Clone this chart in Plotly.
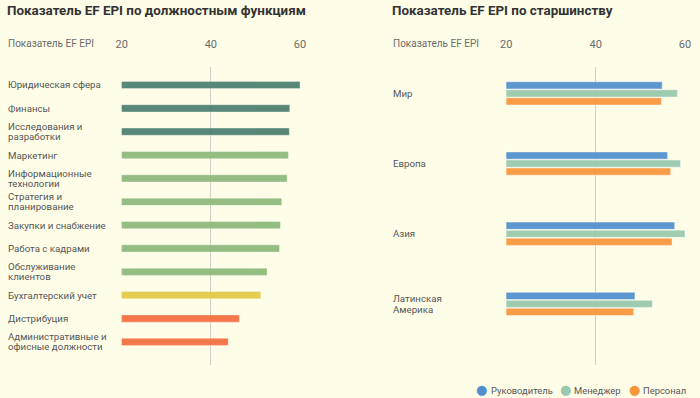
import plotly.graph_objects as go

# ---- data ----
functions = ["Юридическая сфера", "Финансы", "Исследования и<br>разработки", "Маркетинг",
             "Информационные<br>технологии", "Стратегия и<br>планирование", "Закупки и снабжение",
             "Работа с кадрами", "Обслуживание<br>клиентов", "Бухгалтерский учет", "Дистрибуция",
             "Административные и<br>офисные должности"]
function_scores = [60.0, 57.7, 57.6, 57.4, 57.1, 55.9, 55.6, 55.4, 52.6, 51.2, 46.4, 43.9]
function_colors = ["#4b7d6f", "#4b7d6f", "#4b7d6f", "#8cb87a", "#8cb87a", "#8cb87a", "#8cb87a",
                   "#8cb87a", "#8cb87a", "#e2c843", "#f36d3b", "#f36d3b"]

regions = ["Мир", "Европа", "Азия", "Латинская<br>Америка"]
series_names = ["Руководитель", "Менеджер", "Персонал"]
executive = [54.9, 56.1, 57.7, 48.8]
manager = [58.3, 59.0, 60.0, 52.7]
staff = [54.7, 56.8, 57.1, 48.5]
series_colors = ["#4f8fcd", "#98c8ad", "#f8943a"]

tick_vals = [20, 40, 60]
axis_title = "Показатель EF EPI"
title_left = "Показатель EF EPI по должностным функциям"
title_right = "Показатель EF EPI по старшинству"

W, H = 700, 398
BG = "#fefde8"
FONT = "Roboto, 'Open Sans', sans-serif"
GRAY = "#6b6b6b"

fig = go.Figure()

fig.add_trace(go.Bar(
    y=functions, x=function_scores, orientation="h",
    marker=dict(color=function_colors, opacity=0.92,
                line=dict(color="rgba(255,255,255,0.35)", width=1)),
    xaxis="x", yaxis="y", showlegend=False, hoverinfo="x+y",
))

for name, vals, col in zip(series_names, [executive, manager, staff], series_colors):
    fig.add_trace(go.Bar(
        y=regions, x=vals, orientation="h", name=name,
        marker=dict(color=col, opacity=0.92,
                    line=dict(color="rgba(255,255,255,0.45)", width=1)),
        xaxis="x2", yaxis="y2", showlegend=False,
    ))

ydom = [1 - 365 / H, 1 - 67 / H]
xaxis_common = dict(range=[20, 60], tickvals=tick_vals, side="top", showgrid=True,
                    gridcolor="#cfcfc4", gridwidth=1, zeroline=False, showline=False,
                    ticks="", ticklabelstandoff=16, automargin=False,
                    tickfont=dict(family=FONT, size=11, color=GRAY), fixedrange=True)
yaxis_common = dict(showticklabels=False, showgrid=False, zeroline=False, ticks="",
                    automargin=False, showline=False, fixedrange=True)

fig.update_layout(
    width=W, height=H,
    margin=dict(l=0, r=0, t=0, b=0, autoexpand=False),
    paper_bgcolor=BG, plot_bgcolor=BG,
    barmode="group", bargap=0.657, bargroupgap=0.1,
    xaxis=dict(domain=[121.7 / W, 300 / W], anchor="y", **xaxis_common),
    yaxis=dict(domain=ydom, anchor="x", range=[11.99, -0.77], categoryorder="array",
               categoryarray=functions, **yaxis_common),
    xaxis2=dict(domain=[506.3 / W, 685 / W], anchor="y2", **xaxis_common),
    yaxis2=dict(domain=ydom, anchor="x2", range=[3.87, -0.376], categoryorder="array",
                categoryarray=regions, **yaxis_common),
    showlegend=False,
)

ann = []
# titles
ann.append(dict(text="<b>" + title_left + "</b>", x=5 / W, y=1 - 10 / H, xref="paper", yref="paper",
                xanchor="left", yanchor="middle", showarrow=False,
                font=dict(family=FONT, size=13.4, color="#333333")))
ann.append(dict(text="<b>" + title_right + "</b>", x=390 / W, y=1 - 10 / H, xref="paper", yref="paper",
                xanchor="left", yanchor="middle", showarrow=False,
                font=dict(family=FONT, size=13.4, color="#333333")))
# axis titles
for xp in (6 / W, 391 / W):
    ann.append(dict(text=axis_title, x=xp, y=1 - 43.5 / H, xref="paper", yref="paper",
                    xanchor="left", yanchor="middle", showarrow=False,
                    font=dict(family=FONT, size=10, color=GRAY)))


def label_annotations(labels, xp, yref, pitch):
    out = []
    for lab in labels:
        lines = lab.split("<br>")
        n = len(lines)
        for i, line in enumerate(lines):
            shift = ((n - 1) / 2 - i) * pitch
            out.append(dict(text=line, x=xp, y=lab, xref="paper", yref=yref,
                            xanchor="left", yanchor="middle", showarrow=False, yshift=shift,
                            font=dict(family=FONT, size=9.7, color="#555555")))
    return out


ann += label_annotations(functions, 6 / W, "y", 10.2)
ann += label_annotations(regions, 391 / W, "y2", 11)

# legend: circle symbol + label
legend_dot_x = [481.7, 565, 634]
legend_text_x = [488.5, 571.5, 641]
legend_y = 1 - 390 / H
for name, col, dx, tx in zip(series_names, series_colors, legend_dot_x, legend_text_x):
    ann.append(dict(text="●", x=dx / W, y=legend_y, xref="paper", yref="paper",
                    xanchor="center", yanchor="middle", showarrow=False, yshift=1,
                    font=dict(family="DejaVu Sans", size=13, color=col)))
    ann.append(dict(text=name, x=tx / W, y=legend_y, xref="paper", yref="paper",
                    xanchor="left", yanchor="middle", showarrow=False,
                    font=dict(family=FONT, size=9.4, color="#555555")))

fig.update_layout(annotations=ann)

fig.write_html("out.html", config={"displayModeBar": False},
               post_script="document.body.style.margin='0';document.body.style.overflow='hidden';")
